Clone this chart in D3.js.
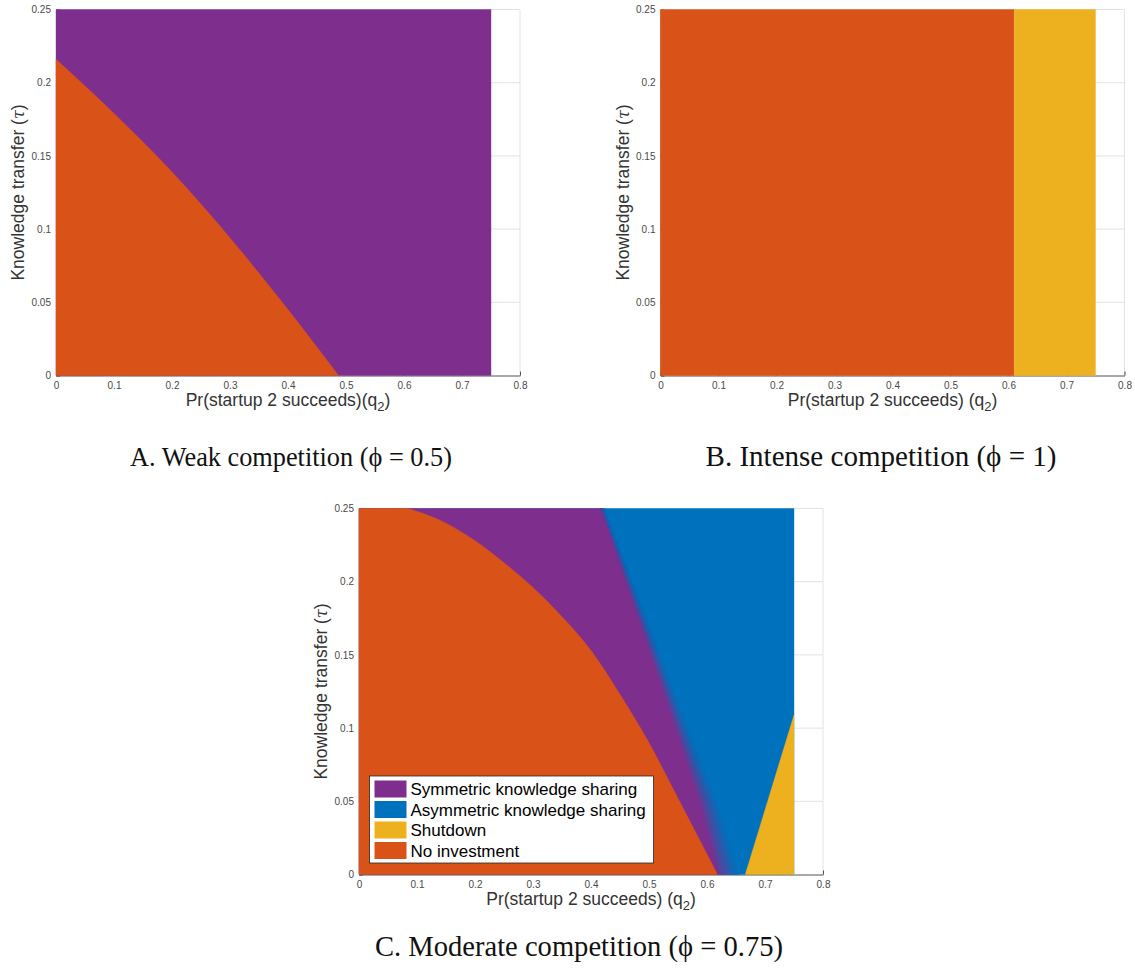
<!DOCTYPE html>
<html><head><meta charset="utf-8">
<script src="https://cdn.jsdelivr.net/npm/d3@7"></script>
<style>body{margin:0;background:#fff}</style>
</head><body>
<script>
// ---------- DATA ----------
const xTicks = [0, 0.1, 0.2, 0.3, 0.4, 0.5, 0.6, 0.7, 0.8];
const yTicks = [0, 0.05, 0.1, 0.15, 0.2, 0.25];
const qMax = 0.75, tauMax = 0.25;

// Panel A: No-investment / symmetric boundary (q2, tau)
const boundaryA_q   = [0, 0.1, 0.2, 0.3, 0.4, 0.487];
const boundaryA_tau = [0.216, 0.179, 0.139, 0.094, 0.045, 0];

// Panel B: vertical split between no investment and shutdown
const splitB_q = 0.61;

// Panel C boundaries
const noInvC_q   = [0.086, 0.15, 0.2, 0.25, 0.3, 0.35, 0.4, 0.45, 0.5, 0.55, 0.618];
const noInvC_tau = [0.25, 0.240, 0.228, 0.213, 0.196, 0.176, 0.153, 0.123, 0.090, 0.052, 0];
const symEdgeTau = [0.25, 0.154, 0.092, 0.047, 0];
const symEdgeC_q = [0.416, 0.500, 0.553, 0.590, 0.620];   // solid purple edge
const mixEdgeC_q = [0.424, 0.516, 0.575, 0.620, 0.655];   // end of mixed band
const shutC_q   = [0.666, 0.75];
const shutC_tau = [0, 0.109];

const legendLabels = ["Symmetric knowledge sharing", "Asymmetric knowledge sharing", "Shutdown", "No investment"];
const colors = {sym:"#7E2F8E", asym:"#0072BD", shut:"#EDB120", none:"#D95319"};
const legendColors = [colors.sym, colors.asym, colors.shut, colors.none];

const captions = ["A. Weak competition (\u03D5 = 0.5)", "B. Intense competition (\u03D5 = 1)", "C. Moderate competition (\u03D5 = 0.75)"];

// ---------- LAYOUT ----------
const svg = d3.select("body").append("svg").attr("width",1135).attr("height",972)
  .style("font-family","'Liberation Sans', Arial, Helvetica, sans-serif");

const panels = [
  {left:56,   top:9.5,  xlab:"Pr(startup 2 succeeds)(q", cap:captions[0], capX:291, capY:466, capW:322},
  {left:660.5,top:9.5,  xlab:"Pr(startup 2 succeeds) (q", cap:captions[1], capX:881, capY:466, capW:351},
  {left:359,  top:508.5,xlab:"Pr(startup 2 succeeds) (q", cap:captions[2], capX:579, capY:956, capW:408}
];
const PW = 464, PH = 366;

function makeAxes(p){
  const g = svg.append("g").attr("transform",`translate(${p.left},${p.top})`);
  const x = d3.scaleLinear().domain([0,0.8]).range([0,PW]);
  const y = d3.scaleLinear().domain([0,0.25]).range([PH,0]);
  // grid
  g.append("g").selectAll("line").data(yTicks.slice(1)).join("line")
    .attr("x1",0).attr("x2",PW).attr("y1",d=>y(d)).attr("y2",d=>y(d))
    .attr("stroke","#e3e3e3").attr("stroke-width",1);
  g.append("g").selectAll("line").data(xTicks.slice(1)).join("line")
    .attr("x1",d=>x(d)).attr("x2",d=>x(d)).attr("y1",0).attr("y2",PH)
    .attr("stroke","#e3e3e3").attr("stroke-width",1);
  // axes lines with inward ticks
  const xa = g.append("g").attr("transform",`translate(0,${PH})`)
    .call(d3.axisBottom(x).tickValues(xTicks).tickSizeInner(-4).tickSizeOuter(0).tickFormat(d3.format("")));
  const ya = g.append("g")
    .call(d3.axisLeft(y).tickValues(yTicks).tickSizeInner(-4).tickSizeOuter(0).tickFormat(d3.format("")));
  [xa,ya].forEach(a=>{
    a.select(".domain").attr("stroke","#262626").attr("stroke-width",0.8);
    a.selectAll(".tick line").attr("stroke","#262626").attr("stroke-width",0.8);
    a.selectAll(".tick text").attr("fill","#4a4a4a").style("font-size","10px")
      .style("font-family","'Liberation Sans', Arial, sans-serif");
  });
  xa.selectAll(".tick text").attr("y",6).attr("dy","0.71em");
  ya.selectAll(".tick text").attr("x",-5);
  const marks = g.append("g");
  // x label
  const xl = g.append("text").attr("x",PW/2).attr("y",PH+30.5).attr("text-anchor","middle")
    .attr("fill","#333").style("font-size","17.5px");
  xl.append("tspan").text(p.xlab);
  xl.append("tspan").attr("dy",5).style("font-size","13px").text("2");
  xl.append("tspan").attr("dy",-5).text(")");
  // y label
  const yl = g.append("text").attr("transform",`translate(-32,${PH/2}) rotate(-90)`)
    .attr("text-anchor","middle").attr("fill","#333").style("font-size","17.5px");
  yl.append("tspan").text("Knowledge transfer (");
  yl.append("tspan").style("font-family","'DejaVu Serif', serif").style("font-style","italic").style("font-size","16px").text("\u03C4");
  yl.append("tspan").text(")");
  // caption
  const cap = svg.append("text").attr("x",p.capX).attr("y",p.capY).attr("text-anchor","middle")
    .style("font-family","'Liberation Serif', 'Times New Roman', serif").style("font-size","26px")
    .attr("fill","#111").text(p.cap);
  const len = cap.node().getComputedTextLength();
  if(len>0) cap.style("font-size", (26*p.capW/len).toFixed(2)+"px");
  return {g, marks, x, y};
}

const A = makeAxes(panels[0]);
const B = makeAxes(panels[1]);
const C = makeAxes(panels[2]);

const pts = (qs, ts) => qs.map((q,i)=>[q, ts[i]]);
// region: straight corner points + optional smooth boundary
function region(ax, corners, curvePts, fill, tail){
  const px = d=>[ax.x(d[0]), ax.y(d[1])];
  let d = "M" + corners.map(c=>px(c).join(",")).join("L");
  if(curvePts){
    const cl = d3.line().x(p=>ax.x(p[0])).y(p=>ax.y(p[1])).curve(d3.curveMonotoneX)(curvePts);
    d += "L" + cl.slice(1);
  }
  if(tail) d += "L" + tail.map(c=>px(c).join(",")).join("L");
  d += "Z";
  ax.marks.append("path").attr("d", d).attr("fill",fill).attr("stroke",fill).attr("stroke-width",0.4);
}

// Panel A
region(A, [[0,0],[0,tauMax],[qMax,tauMax],[qMax,0]], null, colors.sym);
region(A, [[0,0]], pts(boundaryA_q, boundaryA_tau), colors.none);

// Panel B
region(B, [[0,0],[0,tauMax],[splitB_q,tauMax],[splitB_q,0]], null, colors.none);
region(B, [[splitB_q,0],[splitB_q,tauMax],[qMax,tauMax],[qMax,0]], null, colors.shut);

// Panel C
region(C, [[0,0],[0,tauMax],[qMax,tauMax],[qMax,0]], null, colors.asym);
// mixed band (purple fading into blue)
const nStrips = 16;
const mix = d3.interpolateRgb(colors.sym, colors.asym);
for(let k=0;k<nStrips;k++){
  const f0 = k/nStrips, f1 = (k+1)/nStrips;
  const e0 = symEdgeC_q.map((q,i)=>[q+(mixEdgeC_q[i]-q)*f0, symEdgeTau[i]]);
  const e1 = symEdgeC_q.map((q,i)=>[q+(mixEdgeC_q[i]-q)*f1, symEdgeTau[i]]);
  region(C, e0, null, mix(Math.pow((k+0.5)/nStrips,0.8)), e1.reverse());
}
region(C, [[0,0],[0,tauMax], ...pts(symEdgeC_q, symEdgeTau)], null, colors.sym);
region(C, [[0,0],[0,tauMax]], pts(noInvC_q, noInvC_tau), colors.none);
region(C, pts(shutC_q, shutC_tau), null, colors.shut, [[qMax,0]]);

// Legend
const lg = C.g.append("g").attr("transform","translate(10.5,267.5)");
lg.append("rect").attr("width",284).attr("height",87).attr("fill","#fff")
  .attr("stroke","#262626").attr("stroke-width",0.8);
const items = lg.selectAll("g.it").data(legendLabels).join("g").attr("class","it")
  .attr("transform",(d,i)=>`translate(5,${4.5+i*20.5})`);
items.append("rect").attr("width",32).attr("height",17).attr("fill",(d,i)=>legendColors[i]);
items.append("text").attr("x",36).attr("y",14.5).attr("fill","#000").style("font-size","17px").text(d=>d);
</script>
</body></html>
